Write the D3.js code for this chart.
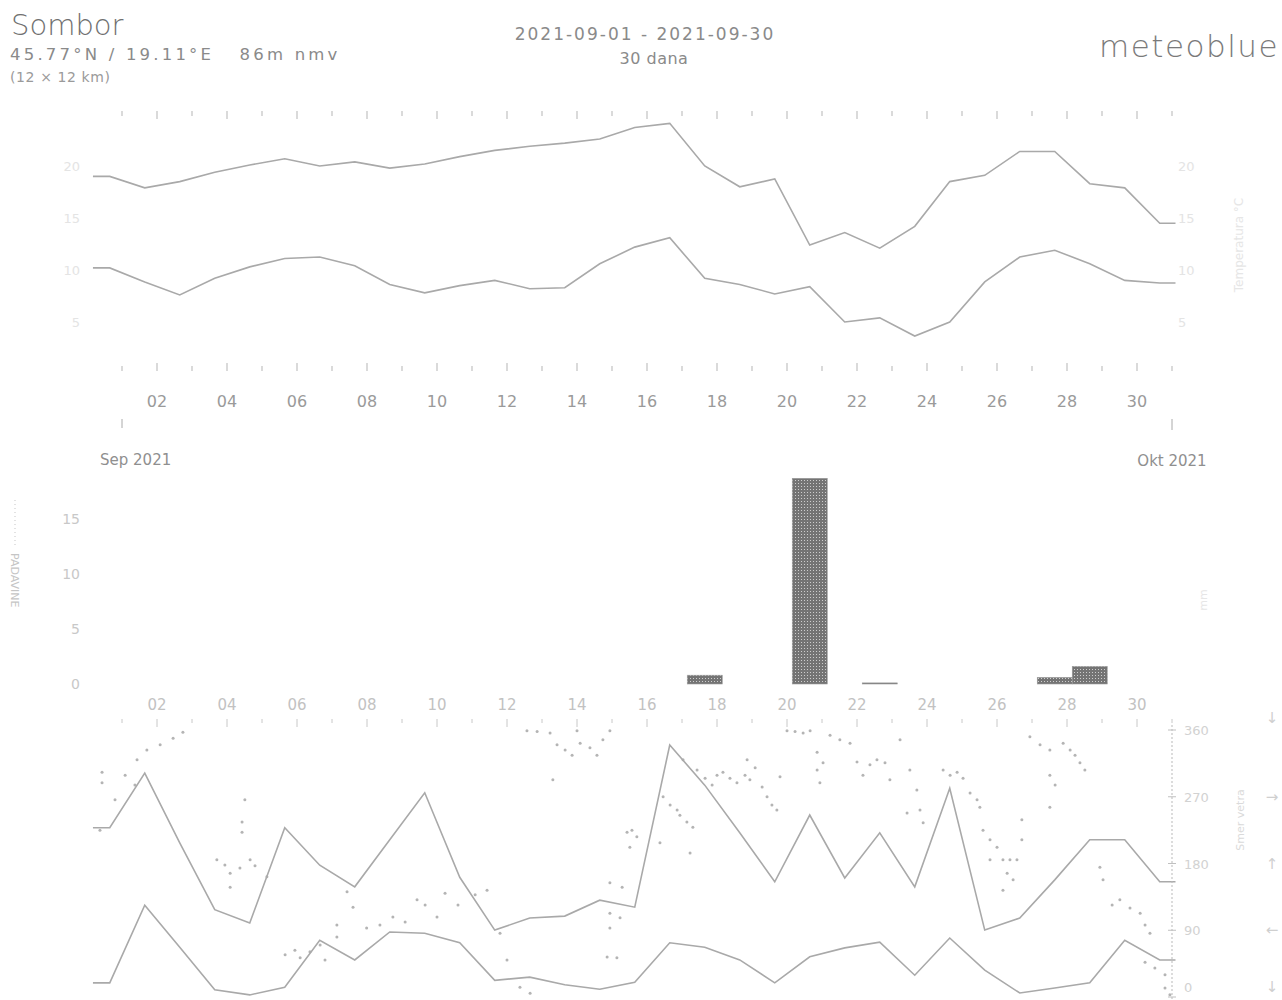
<!DOCTYPE html>
<html>
<head>
<meta charset="utf-8">
<script src="https://cdn.jsdelivr.net/npm/d3@7"></script>
<style>
  body { margin: 0; background: #fff; }
  svg { display: block; }
  text { font-family: "DejaVu Sans", sans-serif; }
</style>
</head>
<body>
<svg id="chart" width="1282" height="1000"></svg>
<script>
// ---- data: Sombor, September 2021 (daily values, day 1..30) ----
const dayLabels = ["02","04","06","08","10","12","14","16","18","20","22","24","26","28","30"];
const labelDays = [2,4,6,8,10,12,14,16,18,20,22,24,26,28,30];

// daily maximum / minimum temperature (°C); *Prev is 31 Aug
const tempMaxPrev = 19.0;
const tempMax = [17.9,18.5,19.4,20.1,20.7,20.0,20.4,19.8,20.2,20.9,
                 21.5,21.9,22.2,22.6,23.7,24.1,20.0,18.0,18.75,12.4,
                 13.6,12.1,14.2,18.5,19.1,21.4,21.4,18.3,17.9,14.5];
const tempMinPrev = 10.2;
const tempMin = [8.85,7.6,9.2,10.3,11.1,11.25,10.4,8.6,7.8,8.5,
                 9.0,8.2,8.3,10.6,12.2,13.1,9.2,8.6,7.7,8.4,
                 5.0,5.4,3.65,5.0,8.85,11.25,11.9,10.6,9.0,8.75];
const tempTicks = [5,10,15,20];

// daily precipitation sum (mm)
const precip = [0,0,0,0,0,0,0,0,0,0,
                0,0,0,0,0,0,0.8,0,0,18.7,
                0,0.1,0,0,0,0,0.6,1.6,0,0];
const precipTicks = [0,5,10,15];

// daily wind speed (km/h): maximum and mean; *Prev is 31 Aug
const windMaxPrev = 27.1;
const windMax = [35.7,24.7,14.2,12.1,27.1,21.2,17.8,25.2,32.6,19.3,
                 11.0,12.9,13.2,15.7,14.6,40.1,33.8,26.3,18.6,29.1,
                 19.2,26.3,17.8,33.3,11.0,12.9,18.9,25.2,25.2,18.6];
const windMeanPrev = 2.7;
const windMean = [14.9,8.3,1.6,0.8,2.0,9.4,6.3,10.7,10.5,9.0,
                  3.1,3.6,2.4,1.7,2.8,9.0,8.3,6.3,2.7,6.8,
                  8.2,9.1,3.9,9.75,4.7,1.1,1.9,2.7,9.4,6.3];

// hourly wind direction samples: [day of month (fractional), degrees]
const windDir = [
  [0.43,303],[0.43,289],[0.37,225],[0.80,266],[1.09,299],[1.37,286],[1.43,320],[1.71,333],[2.09,340],[2.46,349],[2.74,357],
  [3.71,185],[3.94,178],[4.09,167],[4.09,148],[4.37,174],[4.43,236],[4.43,222],[4.51,266],[4.66,185],[4.80,177],[5.14,162],
  [5.66,57],[5.94,63],[6.09,53],[6.37,61],[6.66,70],[6.80,50],
  [7.14,97],[7.14,81],[7.43,142],[7.60,121],[7.99,93],[8.37,97],[8.74,108],[9.09,101],[9.43,131],[9.66,124],
  [10.0,108],[10.23,140],[10.6,124],[11.09,138],[11.43,144],[11.8,86],[12.0,50],[12.37,13],[12.66,5],
  [12.57,359],[12.86,358],[13.23,356],[13.43,340],[13.66,333],[13.86,326],[14.09,342],[14.0,359],[14.37,336],[14.57,326],[14.74,347],[14.94,359],[13.31,293],
  [14.94,154],[15.29,148],[15.43,222],[15.57,225],[15.71,216],[15.51,202],[14.94,113],[15.23,107],[14.94,93],[14.86,54],[15.14,53],
  [16.37,208],[16.46,270],[16.66,259],[16.86,252],[17.03,320],[16.94,245],[17.14,236],[17.31,229],[17.23,194],[17.43,306],[17.66,295],[17.86,286],[18.0,299],
  [18.17,303],[18.37,295],[18.57,289],[18.8,299],[18.94,293],[18.86,320],[19.09,309],[19.29,283],[19.43,270],[19.57,259],[19.71,252],[19.8,297],
  [20.0,359],[20.23,358],[20.46,356],[20.66,359],[20.86,330],[20.86,306],[20.94,289],[21.03,316],[21.23,353],[21.51,347],[21.8,342],[22.0,317],
  [22.17,299],[22.37,313],[22.57,320],[22.8,316],[22.94,293],[23.23,347],[23.51,306],[23.71,279],[23.43,248],[23.8,252],[23.89,235],
  [24.46,306],[24.66,299],[24.86,303],[25.03,295],[25.23,275],[25.43,266],[25.51,256],
  [25.6,225],[25.8,212],[26.0,202],[25.8,185],[26.17,185],[26.37,185],[26.57,185],[26.29,167],[26.46,158],[26.17,144],[26.71,239],[26.71,212],
  [26.94,351],[27.23,340],[27.51,333],[27.51,299],[27.66,286],[27.51,256],[27.89,342],[28.09,333],[28.23,326],[28.37,316],[28.51,306],
  [28.94,175],[29.03,158],[29.29,124],[29.51,131],[29.8,120],[30.09,113],[30.23,97],[30.37,86],[30.23,47],[30.51,39],[30.8,30],[30.8,12],[30.94,3]
];
const dirTicks = [0,90,180,270,360];
const dirArrows = {0:"↓",90:"←",180:"↑",270:"→",360:"↓"};

// ---- scales ----
const svg = d3.select("#chart");
// time axis in days since 1 Sep 00:00
const x = d3.scaleLinear().domain([0, 30]).range([122, 1172]);
const SHIFT = 0.15;                // daily aggregates are stamped in local time
const tStart = -0.83, tEnd = 30.1; // plot extent
const dayT = i => i + 0.5 + SHIFT;

const yT = d3.scaleLinear().domain([5, 20]).range([322, 166]);
const yP = d3.scaleLinear().domain([0, 15]).range([684, 519]);
const yW = d3.scaleLinear().domain([0, 42]).range([1000, 733]);
const yD = d3.scaleLinear().domain([0, 360]).range([997, 730]);

const grey = "#a9a9a9";

// ---- header ----
svg.append("text").attr("x", 11).attr("y", 35).attr("font-size", 29).attr("font-weight", 300)
  .attr("fill", "#707070").text("Sombor");
svg.append("text").attr("x", 10).attr("y", 60).attr("font-size", 16.5).attr("fill", "#8a8a8a")
  .attr("letter-spacing", 3.2).attr("xml:space", "preserve")
  .text("45.77°N / 19.11°E   86m nmv");
svg.append("text").attr("x", 10).attr("y", 82).attr("font-size", 14).attr("fill", "#9a9a9a")
  .attr("letter-spacing", 0.6).text("(12 × 12 km)");
svg.append("text").attr("x", 645).attr("y", 40).attr("text-anchor", "middle").attr("font-size", 17)
  .attr("letter-spacing", 2).attr("fill", "#8a8a8a").text("2021-09-01 - 2021-09-30");
svg.append("text").attr("x", 654).attr("y", 64).attr("text-anchor", "middle").attr("font-size", 16)
  .attr("letter-spacing", 0.5).attr("fill", "#8a8a8a").text("30 dana");
svg.append("text").attr("x", 1279).attr("y", 57).attr("text-anchor", "end").attr("font-size", 31)
  .attr("letter-spacing", 1.5).attr("font-weight", 300).attr("fill", "#7a7a7a").text("meteoblue");

// ---- temperature panel ----
const gT = svg.append("g");
const dayBounds = d3.range(0, 31);
gT.selectAll(".tt").data(dayBounds).join("line")
  .attr("x1", d => x(d)).attr("x2", d => x(d))
  .attr("y1", 111).attr("y2", d => d % 2 === 1 ? 119 : 116)
  .attr("stroke", "#b5b5b5").attr("stroke-width", 1);
gT.selectAll(".tb").data(dayBounds).join("line")
  .attr("x1", d => x(d)).attr("x2", d => x(d))
  .attr("y1", d => d % 2 === 1 ? 363 : 366).attr("y2", 371)
  .attr("stroke", "#b5b5b5").attr("stroke-width", 1);

gT.selectAll(".tl").data(tempTicks).join("text")
  .attr("x", 80).attr("y", d => yT(d) + 5).attr("text-anchor", "end")
  .attr("font-size", 13).attr("fill", "#e4e4e4").text(d => d);
gT.selectAll(".tr").data(tempTicks).join("text")
  .attr("x", 1178).attr("y", d => yT(d) + 5)
  .attr("font-size", 13).attr("fill", "#e4e4e4").text(d => d);

function dailySeries(prev, vals) {
  const pts = [[tStart, prev], [dayT(-1), prev]];
  vals.forEach((v, i) => pts.push([dayT(i), v]));
  pts.push([tEnd, vals[vals.length - 1]]);
  return pts;
}
const lineT = d3.line().x(d => x(d[0])).y(d => yT(d[1]));
gT.append("path").attr("d", lineT(dailySeries(tempMaxPrev, tempMax)))
  .attr("fill", "none").attr("stroke", grey).attr("stroke-width", 1.6);
gT.append("path").attr("d", lineT(dailySeries(tempMinPrev, tempMin)))
  .attr("fill", "none").attr("stroke", grey).attr("stroke-width", 1.6);

gT.append("text").attr("transform", `translate(1243,245) rotate(-90)`)
  .attr("text-anchor", "middle").attr("font-size", 12).attr("fill", "#e6e6e6")
  .text("Temperatura °C");

// day labels under the temperature panel
svg.selectAll(".dl").data(labelDays).join("text")
  .attr("x", d => x(d - 1)).attr("y", 407).attr("text-anchor", "middle")
  .attr("font-size", 16).attr("fill", "#9a9a9a").text((d, i) => dayLabels[i]);

// month marks
svg.append("line").attr("x1", x(0)).attr("x2", x(0)).attr("y1", 419).attr("y2", 428)
  .attr("stroke", "#aaa");
svg.append("line").attr("x1", x(30)).attr("x2", x(30)).attr("y1", 419).attr("y2", 430)
  .attr("stroke", "#aaa");
svg.append("text").attr("x", 100).attr("y", 465).attr("font-size", 15).attr("fill", "#8f8f8f")
  .text("Sep 2021");
svg.append("text").attr("x", x(30)).attr("y", 466).attr("text-anchor", "middle")
  .attr("font-size", 15).attr("fill", "#8f8f8f").text("Okt 2021");

// ---- precipitation panel ----
const defs = svg.append("defs");
const pat = defs.append("pattern").attr("id", "mesh").attr("patternUnits", "userSpaceOnUse")
  .attr("width", 3).attr("height", 3);
pat.append("rect").attr("width", 3).attr("height", 3).attr("fill", "#747474");
pat.append("rect").attr("width", 1).attr("height", 1).attr("fill", "#cdcdcd");

const gP = svg.append("g");
gP.selectAll(".pl").data(precipTicks).join("text")
  .attr("x", 80).attr("y", d => yP(d) + 5).attr("text-anchor", "end")
  .attr("font-size", 14).attr("fill", "#c8c8c8").text(d => d);

gP.selectAll(".bar").data(precip.map((v, i) => ({v, i})).filter(d => d.v > 0)).join("rect")
  .attr("x", d => x(d.i + SHIFT)).attr("width", x(1) - x(0))
  .attr("y", d => yP(d.v)).attr("height", d => Math.max(1, yP(0) - yP(d.v)))
  .attr("fill", "url(#mesh)").attr("stroke", "#9a9a9a").attr("stroke-width", 0.6);

svg.selectAll(".dl2").data(labelDays).join("text")
  .attr("x", d => x(d - 1)).attr("y", 710).attr("text-anchor", "middle")
  .attr("font-size", 15).attr("fill", "#c2c2c2").text((d, i) => dayLabels[i]);

// legend label on the left, written top-down
svg.append("line").attr("x1", 15).attr("x2", 15).attr("y1", 500).attr("y2", 545)
  .attr("stroke", "#c5c5c5").attr("stroke-dasharray", "1,3");
svg.append("text").attr("transform", "translate(11,553) rotate(90)")
  .attr("font-size", 11).attr("fill", "#c5c5c5").text("PADAVINE");
svg.append("text").attr("transform", "translate(1207,600) rotate(-90)")
  .attr("text-anchor", "middle").attr("font-size", 11).attr("fill", "#e6e6e6").text("mm");

// ---- wind panel ----
const gW = svg.append("g");
gW.selectAll(".wt").data(dayBounds).join("line")
  .attr("x1", d => x(d)).attr("x2", d => x(d))
  .attr("y1", 719).attr("y2", d => d % 2 === 1 ? 727 : 723)
  .attr("stroke", "#c8c8c8");

gW.selectAll(".dot").data(windDir).join("circle")
  .attr("cx", d => x(d[0] - 1)).attr("cy", d => yD(d[1])).attr("r", 1.5)
  .attr("fill", "#9b9b9b").attr("opacity", 0.75);

const lineW = d3.line().x(d => x(d[0])).y(d => yW(d[1]));
gW.append("path").attr("d", lineW(dailySeries(windMaxPrev, windMax)))
  .attr("fill", "none").attr("stroke", grey).attr("stroke-width", 1.6);
gW.append("path").attr("d", lineW(dailySeries(windMeanPrev, windMean)))
  .attr("fill", "none").attr("stroke", grey).attr("stroke-width", 1.6);

// direction axis on the right
gW.append("line").attr("x1", x(30)).attr("x2", x(30)).attr("y1", 725).attr("y2", 1000)
  .attr("stroke", "#b9b9b9").attr("stroke-dasharray", "2,2");
gW.selectAll(".dt").data(dirTicks).join("line")
  .attr("x1", x(30) - 4).attr("x2", x(30) + 4).attr("y1", d => yD(d)).attr("y2", d => yD(d))
  .attr("stroke", "#c0c0c0");
gW.selectAll(".dtl").data(dirTicks).join("text")
  .attr("x", 1184).attr("y", d => Math.min(yD(d) + 5, 992))
  .attr("font-size", 13).attr("fill", "#d2d2d2").text(d => d);
gW.selectAll(".arr").data(dirTicks).join("text")
  .attr("x", 1272).attr("y", d => yD(d) + 5 - (d === 360 ? 12 : d === 0 ? 10 : 0))
  .attr("text-anchor", "middle").attr("font-size", 15).attr("fill", "#cfcfcf")
  .text(d => dirArrows[d]);
gW.append("text").attr("transform", "translate(1244,820) rotate(-90)")
  .attr("text-anchor", "middle").attr("font-size", 11).attr("fill", "#dadada").text("Smer vetra");
</script>
</body>
</html>
